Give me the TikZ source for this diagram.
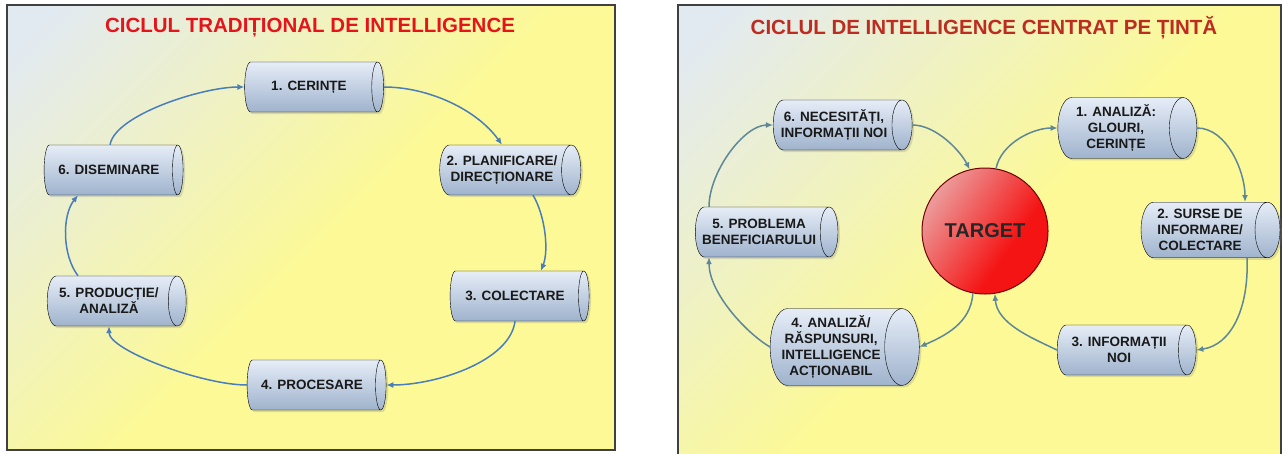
\documentclass[tikz,border=0pt]{standalone}
\usepackage{fontspec}
\setmainfont{Liberation Sans}
\usetikzlibrary{shapes.geometric, arrows.meta, shadows}

\definecolor{bgblue}{HTML}{E2EAF1}
\definecolor{bgyellow}{HTML}{FCF996}
\definecolor{cyltop}{HTML}{E6EDF7}
\definecolor{cylbot}{HTML}{9FB3CD}
\definecolor{tradblue}{HTML}{4A7EBB}
\definecolor{tgtteal}{HTML}{5E8797}
\definecolor{titlered}{HTML}{E5141B}
\definecolor{titledark}{HTML}{BC2C20}
\definecolor{redlight}{HTML}{EC9C9C}
\definecolor{redmain}{HTML}{F51414}

\pgfdeclarehorizontalshading{panelbg}{100bp}{color(0bp)=(bgblue); color(18bp)=(bgblue); color(52bp)=(bgyellow); color(100bp)=(bgyellow)}
\pgfdeclarehorizontalshading{targetshade}{100bp}{color(0bp)=(redlight); color(25bp)=(redlight); color(62bp)=(redmain); color(100bp)=(redmain)}

\begin{document}
\begin{tikzpicture}
        [
        x=1pt, y=-1pt,
        panel/.style={draw=black!75, line width=1.2pt},
        cyl/.style={draw, cylinder, shape aspect=0.45, minimum height=139pt, minimum width=50pt,
                inner xsep=4pt, inner ysep=7pt, align=center, top color=cyltop, bottom color=cylbot,
                text=black!90, drop shadow={shadow xshift=2pt, shadow yshift=-2pt, opacity=0.25},
                font=\fontsize{13.5}{16}\selectfont\bfseries},
        target/.style={circle, draw=red!45!black, line width=1pt, minimum size=126pt,
                shading=targetshade, shading angle=-35, text=black!85,
                font=\fontsize{20}{24}\selectfont\bfseries},
        title/.style={font=\fontsize{20.5}{24}\selectfont\bfseries},
        arrow/.style={-{Latex[length=7pt, width=6pt]}, line width=1.5pt, tradblue},
        tarrow/.style={-{Latex[length=7pt, width=6pt]}, line width=1.5pt, tgtteal}
        ]

        \useasboundingbox (0,0) rectangle (1284,453);
        \clip (0,0) rectangle (1284,453);

        % Panels
        \shade[shading=panelbg, shading angle=-45] (7,5) rectangle (615,450);
        \draw[panel] (7,5) rectangle (615,450);
        \shade[shading=panelbg, shading angle=-45] (678,5) rectangle (1281,470);
        \draw[panel] (678,5) rectangle (1281,470);

        \node[title, titlered] (tradtitle) at (310,28) {CICLUL TRADIȚIONAL DE INTELLIGENCE};
        \node[title, titledark] (tgttitle) at (984,28) {CICLUL DE INTELLIGENCE CENTRAT PE ȚINTĂ};

        % Traditional cycle
        \node[cyl] (trad1) at (309,87) {1. CERINȚE};
        \node[cyl] (trad2) at (502,170) {2. PLANIFICARE/\\DIRECȚIONARE};
        \node[cyl] (trad3) at (515,296) {3. COLECTARE};
        \node[cyl] (trad4) at (312,385) {4. PROCESARE};
        \node[cyl] (trad5) at (109,301) {5. PRODUCȚIE/\\ANALIZĂ};
        \node[cyl] (trad6) at (109,170) {6. DISEMINARE};

        % Target centred cycle
        \node[target] (target) at (985,231) {TARGET};
        \node[cyl] (tgt1) at (1116,128) {1. ANALIZĂ:\\GLOURI,\\CERINȚE};
        \node[cyl] (tgt2) at (1200,230) {2. SURSE DE\\INFORMARE/\\COLECTARE};
        \node[cyl] (tgt3) at (1119,350) {3. INFORMAȚII\\NOI};
        \node[cyl] (tgt4) at (831,347) {4. ANALIZĂ/\\RĂSPUNSURI,\\INTELLIGENCE\\ACȚIONABIL};
        \node[cyl] (tgt5) at (759,232) {5. PROBLEMA\\BENEFICIARULUI};
        \node[cyl] (tgt6) at (834,125) {6. NECESITĂȚI,\\INFORMAȚII NOI};

        % Edges
        \draw[arrow] (trad1.east) .. controls +(45,0) and +(-25,-35) .. (trad2.north);
        \draw[arrow] ([xshift=31pt]trad2.south) .. controls +(12,20) and +(8,-21) .. ([xshift=26pt]trad3.north);
        \draw[arrow] (trad3.south) .. controls +(-5,40) and +(50,0) .. (trad4.east);
        \draw[arrow] (trad4.west) .. controls +(-45,0) and +(0,24) .. (trad5.south);
        \draw[arrow] ([xshift=-31pt]trad5.north) .. controls +(-16,-21) and +(-16,20) .. ([xshift=-31pt]trad6.south);
        \draw[arrow] ([xshift=1pt]trad6.north) .. controls +(5,-30) and +(-42,0) .. (trad1.west);

        \draw[tarrow] (tgt6.east) .. controls +(24,0) and +(-9,-18) .. (target.104);
        \draw[tarrow] (target.80) .. controls +(5,-25) and +(-25,0) .. (tgt1.west);
        \draw[tarrow] (tgt1.east) .. controls +(30,0) and +(0,-30) .. ([xshift=45pt]tgt2.north);
        \draw[tarrow] ([xshift=47pt]tgt2.south) .. controls +(2,50) and +(35,-5) .. (tgt3.east);
        \draw[tarrow] (tgt3.west) .. controls +(-25,-12) and +(2,30) .. (target.279);
        \draw[tarrow] (target.259) .. controls +(-2,30) and +(25,-11) .. (tgt4.east);
        \draw[tarrow] (tgt4.west) .. controls +(-25,-15) and +(0,35) .. ([xshift=-50pt]tgt5.south);
        \draw[tarrow] ([xshift=-50pt]tgt5.north) .. controls +(0,-35) and +(-29,0) .. (tgt6.west);

    \end{tikzpicture}
\end{document}
